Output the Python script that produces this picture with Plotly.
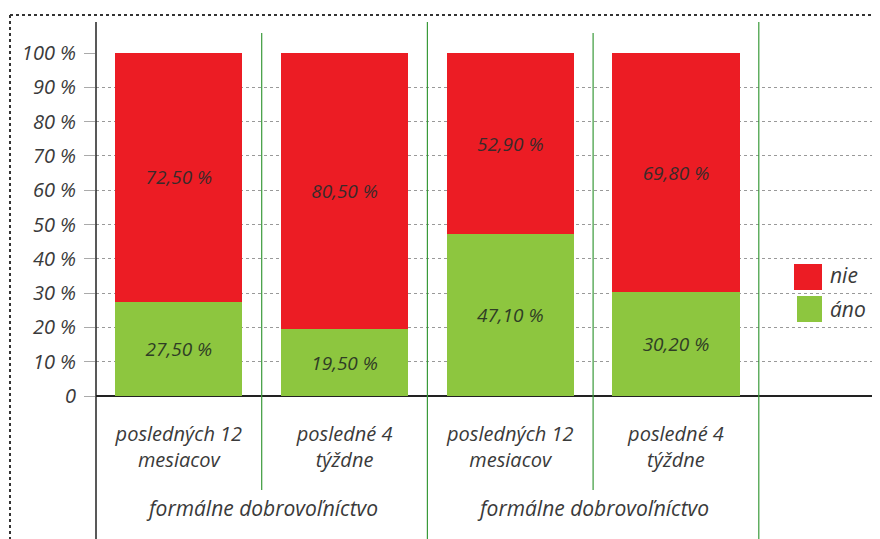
import plotly.graph_objects as go

categories = ["posledných 12<br>mesiacov", "posledné 4<br>týždne",
              "posledných 12<br>mesiacov", "posledné 4<br>týždne"]
group_labels = ["formálne dobrovoľníctvo", "formálne dobrovoľníctvo"]
series_names = ["áno", "nie"]
ano_values = [27.5, 19.5, 47.1, 30.2]
nie_values = [72.5, 80.5, 52.9, 69.8]
y_ticks = [0, 10, 20, 30, 40, 50, 60, 70, 80, 90, 100]
y_ticklabels = ["0", "10 %", "20 %", "30 %", "40 %", "50 %", "60 %", "70 %", "80 %", "90 %", "100 %"]

RED = "#EC1C24"
GREEN = "#8DC63F"
FONT = "Open Sans"
TXT = "#3a3a3a"

OFF = 8  # page body margin
FW, FH = 880 - OFF, 539 - OFF
# plot area in reference pixels
L, R, T, B = 96, 880, 53, 396
W, H = R - L, B - T
def px(x):
    return (x - L) / W
def py(y):
    return (B - y) / H

def fmt(v):
    return f"{v:.2f}".replace(".", ",") + " %"

xs = list(range(len(categories)))
fig = go.Figure()
fig.add_trace(go.Bar(
    x=xs, y=ano_values, name=series_names[0], marker=dict(color=GREEN, line=dict(width=0)),
    text=[fmt(v) for v in ano_values], textposition="inside", insidetextanchor="middle",
    textangle=0, constraintext="none",
    insidetextfont=dict(family=FONT, size=19, color="#2f3d25", style="italic"),
    width=0.767, showlegend=False))
fig.add_trace(go.Bar(
    x=xs, y=nie_values, name=series_names[1], marker=dict(color=RED, line=dict(width=0)),
    text=[fmt(v) for v in nie_values], textposition="inside", insidetextanchor="middle",
    textangle=0, constraintext="none",
    insidetextfont=dict(family=FONT, size=19, color="#3a2a2a", style="italic"),
    width=0.767, showlegend=False))

shapes = []
# dotted frame
shapes.append(dict(type="line", xref="paper", yref="paper", x0=px(10), x1=px(880), y0=py(15), y1=py(15),
                   line=dict(color="#333", width=2, dash="dot")))
shapes.append(dict(type="line", xref="paper", yref="paper", x0=px(10), x1=px(10), y0=py(15), y1=py(539),
                   line=dict(color="#333", width=2, dash="dot")))
# black axis line
shapes.append(dict(type="line", xref="paper", yref="paper", x0=0, x1=0, y0=py(22), y1=py(539),
                   line=dict(color="#222", width=1.5)))
# green separators
for i, xv in enumerate([0.5, 1.5, 2.5, 3.5]):
    long = i % 2 == 1
    shapes.append(dict(type="line", xref="x", yref="paper", x0=xv, x1=xv,
                       y0=py(539 if long else 490), y1=py(22 if long else 33),
                       line=dict(color="#3a9a3a", width=1.2)))
# legend swatches
shapes.append(dict(type="rect", xref="paper", yref="paper", x0=px(794), x1=px(822), y0=py(290), y1=py(264),
                   fillcolor=RED, line=dict(width=0)))
shapes.append(dict(type="rect", xref="paper", yref="paper", x0=px(797), x1=px(822), y0=py(322), y1=py(296),
                   fillcolor=GREEN, line=dict(width=0)))

annotations = []
for xv, lab in zip([0.5, 2.5], group_labels):
    annotations.append(dict(x=xv, xref="x", y=py(508), yref="paper", text=lab, showarrow=False,
                            font=dict(family=FONT, size=21, color=TXT, style="italic"),
                            xanchor="center", yanchor="middle"))
annotations.append(dict(x=px(828), xref="paper", y=py(275), yref="paper", text=series_names[1], showarrow=False,
                        font=dict(family=FONT, size=21, color=TXT, style="italic"), xanchor="left", yanchor="middle"))
annotations.append(dict(x=px(828), xref="paper", y=py(309), yref="paper", text=series_names[0], showarrow=False,
                        font=dict(family=FONT, size=21, color=TXT, style="italic"), xanchor="left", yanchor="middle"))

fig.update_layout(
    barmode="stack",
    width=FW, height=FH,
    margin=dict(l=L - OFF, r=880 - R, t=T - OFF, b=539 - B, pad=0),
    paper_bgcolor="white", plot_bgcolor="white",
    shapes=shapes, annotations=annotations,
    xaxis=dict(range=[-0.5, -0.5 + W / 165.7], tickvals=xs, ticktext=categories,
               showgrid=False, zeroline=False, showline=False, ticks="", ticklabelstandoff=24,
               tickfont=dict(family=FONT, size=20, color=TXT, style="italic")),
    yaxis=dict(range=[0, 100], tickvals=y_ticks, ticktext=y_ticklabels,
               showgrid=True, gridcolor="#999", griddash="dot", gridwidth=1,
               zeroline=True, zerolinecolor="#222", zerolinewidth=1.5,
               ticks="outside", ticklen=11, tickcolor="#aaa", ticklabelstandoff=4,
               tickfont=dict(family=FONT, size=20, color=TXT, style="italic"),
               showline=False),
    font=dict(family=FONT),
)

fig.write_html("out.html")
